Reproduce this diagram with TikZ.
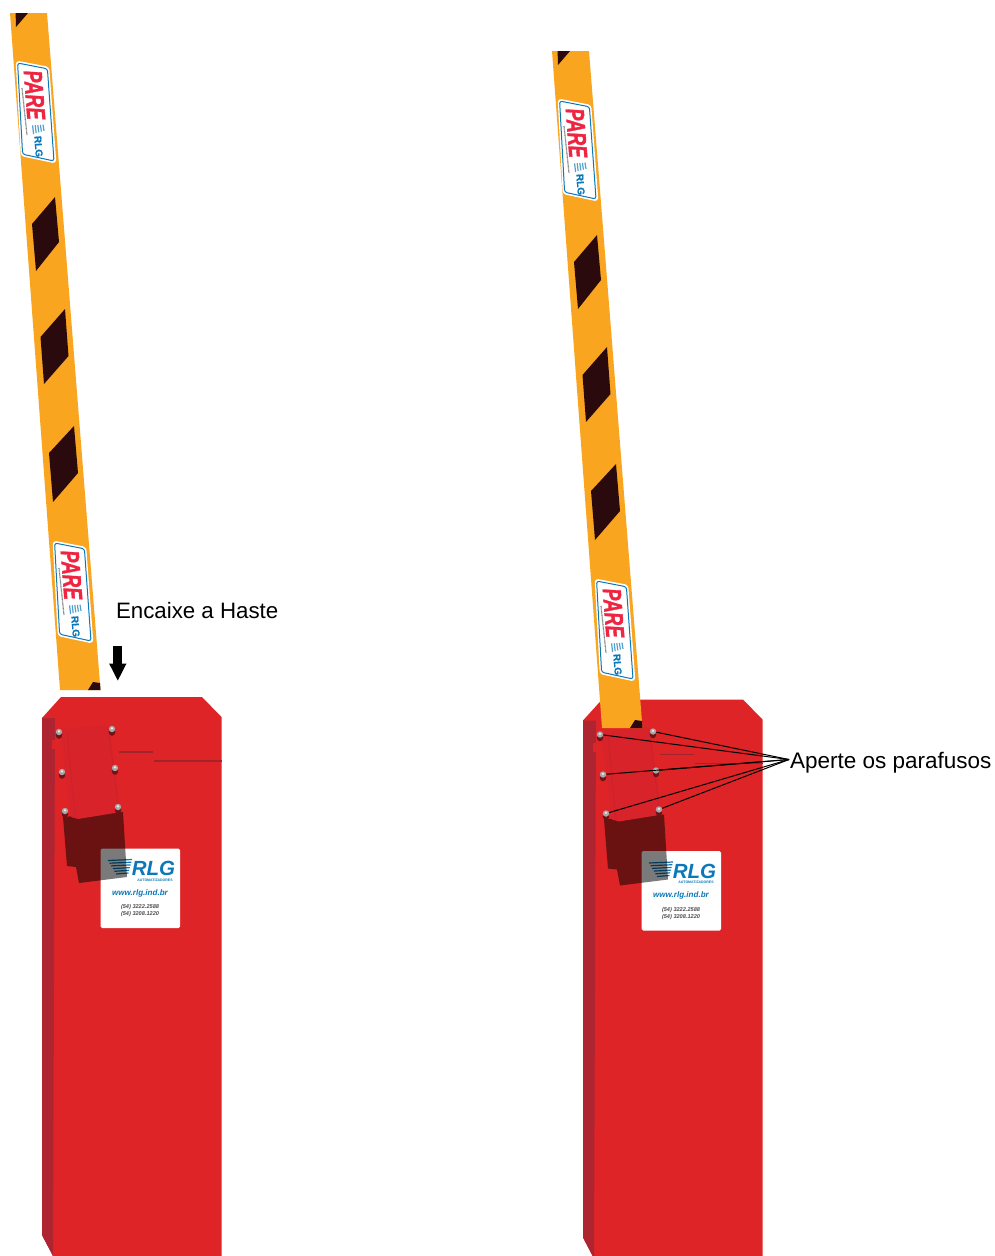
\documentclass[tikz,border=0pt]{standalone}
\usepackage{fontspec}
\setmainfont{Liberation Sans}
\usetikzlibrary{arrows.meta}
\definecolor{postred}{HTML}{DE2427}
\definecolor{postside}{HTML}{AE2430}
\definecolor{plate}{HTML}{D8232B}
\definecolor{plateline}{HTML}{C8222B}
\definecolor{slot}{HTML}{A0242C}
\definecolor{armorange}{HTML}{F9A51F}
\definecolor{armdark}{HTML}{2A0A0C}
\definecolor{rlgblue}{HTML}{0A78B9}
\definecolor{parered}{HTML}{EE2440}
\definecolor{screwshade}{HTML}{6E1216}
\definecolor{screwgrey}{HTML}{ABA5A5}
\tikzset{
  txt/.style={inner sep=0pt,outer sep=0pt},
  screw/.style={circle,fill=screwgrey,inner sep=0pt,minimum size=6.4pt},
  leader/.style={black,line width=1pt},
  pare/.style={txt,text=parered,font=\fontsize{26}{27}\selectfont\bfseries\itshape\addfontfeature{FakeBold=1.5},rotate=-85.6},
  rlgs/.style={txt,text=rlgblue,font=\fontsize{10}{11}\selectfont\bfseries\addfontfeature{FakeBold=1},rotate=-85.6},
  cardtxt/.style={txt,text=rlgblue,font=\bfseries\itshape},
}
\newcommand{\screwat}[3]{%
  \fill[screwshade] (#2,#3+2.8) circle[x radius=3.3,y radius=4];
  \node[screw] (#1) at (#2,#3) {};
  \fill[white!80!screwgrey] (#2,#3-.6) circle[radius=1.3];
}
\newcommand{\sticker}[1]{%
  \draw[rounded corners=2.5pt,fill=white,draw=white,line width=2.6pt] (17,62) -- (48,68) -- (55,162) -- (22,155) -- cycle;
  \draw[rounded corners=2.5pt,draw=rlgblue,line width=1pt] (17.6,63) -- (47.4,68.8) -- (54,161) -- (22.6,154.2) -- cycle;
  \node[pare] (#1p) at (34.5,95) {\scalebox{.7}[1]{PARE}};
  \draw[gray,line width=1.2pt,dash pattern=on .8pt off .5pt] (22,88) -- (27,135);
  \foreach \i in {0,...,4}{
    \fill[rlgblue!70] (32+\i*2.6,125.5-\i*.2) -- (33.2+\i*2.6,125.4-\i*.2) -- (34.2+\i*2.6,134-\i*.8) -- (33+\i*2.6,134-\i*.8) -- cycle;
  }
  \node[rlgs] (#1r) at (38.5,146.5) {RLG};
}
\newcommand{\armpart}[1]{%
  \fill[armorange] (10,13) -- (47,13) -- (100.5,690) -- (60,690) -- cycle;
  \fill[armdark] (15.6,13) -- (28,13) -- (16,27) -- cycle;
  \fill[armdark] (55,197) -- (59,242) -- (36,271) -- (32,224) -- cycle;
  \fill[armdark] (65,309) -- (68.5,356) -- (44,384) -- (40.5,337) -- cycle;
  \fill[armdark] (74,426) -- (78,473) -- (53,502) -- (49,453) -- cycle;
  \fill[armdark] (93,682) -- (88,690) -- (100.5,690) -- (100,683) -- cycle;
  \sticker{#1a}
  \begin{scope}[shift={(37,480)}]
    \sticker{#1b}
  \end{scope}
}
\newcommand{\postpart}[1]{%
  \fill[postred] (61,697) -- (202,697) -- (221.5,717) -- (221.5,1256) -- (53,1256) -- (42,1235) -- (42,718) -- cycle;
  \fill[postside] (42,718) -- (55,718) -- (53,1256) -- (42,1235) -- cycle;
  \fill[postred] (52,740) -- (56,740) -- (56,749) -- (52,749) -- cycle;
  \draw[slot,line width=1.2pt] (119,752) -- (153,752);
  \draw[slot,line width=1.2pt] (154,761) -- (221.5,761);
  \fill[white,rounded corners=1.5pt] (100.7,848.5) rectangle (180,928);
  % logo
  \foreach \i in {0,...,5}{
    \draw[rlgblue,line width=1.2pt] (108+\i*1.6,860.5+\i*2.7) -- (132-\i*.7,859.5+\i*2.7);
  }
  \node[cardtxt,font=\fontsize{20.5}{21}\selectfont\bfseries\itshape] (#1logo) at (153.5,868.5) {RLG};
  \node[cardtxt,font=\fontsize{3.5}{4}\selectfont\bfseries] (#1sub) at (155,880) {AUTOMATIZADORES};
  \node[cardtxt,font=\fontsize{8.06}{9}\selectfont\bfseries\itshape] (#1www) at (140,893) {www.rlg.ind.br};
  \node[cardtxt,text=black!70,font=\fontsize{5.6}{6}\selectfont\bfseries\itshape] (#1ph1) at (140,907.5) {(54) 3222.2588};
  \node[cardtxt,text=black!70,font=\fontsize{5.6}{6}\selectfont\bfseries\itshape] (#1ph2) at (140,914.5) {(54) 3208.1220};
  % shadow under the plate
  \fill[black,opacity=.52] (63,817) -- (123,812) -- (127,877) -- (79,883) -- (76,867) -- (67,866) -- cycle;
  % plate
  \fill[plate] (60,729) -- (109,725) -- (121,812) -- (78,819) -- (71,817) -- cycle;
  \draw[plateline,line width=.6pt] (67,732) -- (75,817);
  \draw[plateline,line width=.6pt] (108,727) -- (119,812);
  \screwat{#1s1}{59}{732}
  \screwat{#1s2}{112}{729}
  \screwat{#1s3}{62}{772}
  \screwat{#1s4}{115}{768}
  \screwat{#1s5}{65}{811}
  \screwat{#1s6}{118}{807}
}
\begin{document}
\begin{tikzpicture}[x=1pt,y=-1pt]
\useasboundingbox (0,0) rectangle (995,1256);
\fill[white] (0,0) rectangle (995,1256);

% left assembly
\postpart{l}
\armpart{l}
\node[txt,font=\fontsize{22.3}{26}\selectfont,anchor=base west] (haste) at (116,618.3) {Encaixe a Haste};
\coordinate (arrowtop) at (117.8,646);
\coordinate (arrowtip) at (117.8,681);
\draw[line width=9pt,black,-{Triangle[width=16pt,length=17.5pt]}] (arrowtop) -- (arrowtip);

% right assembly
\begin{scope}[shift={(541,2.5)}]
  \postpart{r}
\end{scope}
\begin{scope}[shift={(542,38)}]
  \armpart{r}
\end{scope}
\node[txt,font=\fontsize{22.5}{26}\selectfont,anchor=base west] (parafusos) at (790,768.3) {Aperte os parafusos};
\coordinate (conv) at (789,759.5);
\foreach \s in {1,...,6}{
  \draw[leader] (rs\s) -- (conv);
}
\end{tikzpicture}
\end{document}
